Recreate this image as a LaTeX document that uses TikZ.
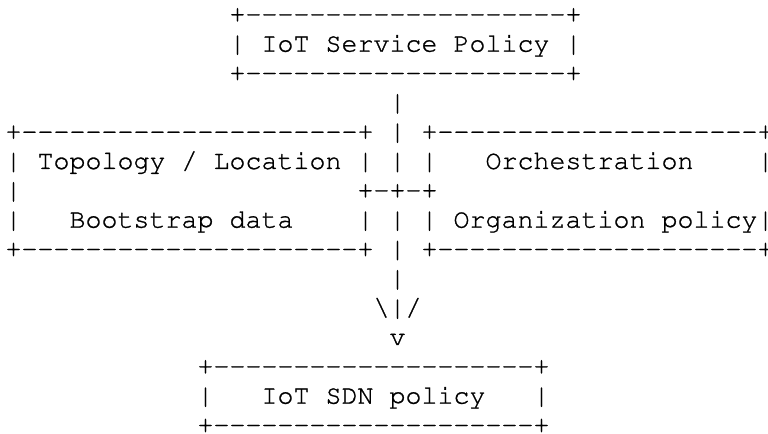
\documentclass[tikz,border=0pt]{standalone}
\usepackage[T1]{fontenc}
% Courier-style monospaced grid: 20pt type, 12pt pitch, 22pt line pitch
\newcommand\gap[1]{\hspace*{\dimexpr #1\dimexpr 12pt\relax\relax}}
\newcommand\dashrun[1]{\foreach \k in {1,...,#1}{-{}}}
% slightly heavier glyphs: fill and stroke the outlines
\newcommand\ascfont{\fontencoding{T1}\fontfamily{pcr}\fontsize{20}{22}\selectfont
  \special{pdf:literal direct 2 Tr 0.2 w}}
\tikzset{
  asc/.style={anchor=base west, inner sep=0pt, outer sep=0pt, text=black, font=\ascfont},
}
\begin{document}
\begin{tikzpicture}
  \fill[white] (0pt,0pt) rectangle (576pt,-324.75pt);
  \useasboundingbox (0pt,0pt) rectangle (576pt,-324.75pt);

  % one unit = one character cell (column, row)
  \begin{scope}[x=12pt, y=-22pt, shift={(4.125pt,-16.725pt)}]
  % IoT Service Policy box
  \node[asc] (svcTop) at (14,0) {+\dashrun{20}+};
  \node[asc] (svcMid) at (14,1) {| IoT Service Policy |};
  \node[asc] (svcBot) at (14,2) {+\dashrun{20}+};

  % trunk down to the junction
  \node[asc] (trunkA) at (24,3) {|};

  % side boxes and the junction
  \node[asc] (sideTop) at (0,4) {+\dashrun{21}+\gap{1}|\gap{1}+\dashrun{20}+};
  \node[asc] (sideL1)  at (0,5) {|\gap{1}Topology / Location\gap{1}|\gap{1}|\gap{1}|\gap{3}Orchestration};
  \node[asc] (sideR1)  at (47,5) {|};
  \node[asc] (sideL2)  at (0,6) {|};
  \node[asc] (joint)   at (22,6) {+-{}+-{}+};
  \node[asc] (sideL3)  at (0,7) {|\gap{3}Bootstrap data\gap{4}|\gap{1}|\gap{1}|\gap{1}Organization policy|};
  \node[asc] (sideBot) at (0,8) {+\dashrun{21}+\gap{1}|\gap{1}+\dashrun{20}+};

  % trunk and arrow head
  \node[asc] (trunkB) at (24,9) {|};
  \node[asc] (head)   at (23,10) {\textbackslash|/};
  \node[asc] (tip)    at (24,11) {v};

  % IoT SDN policy box
  \node[asc] (sdnTop) at (12,12) {+\dashrun{20}+};
  \node[asc] (sdnMid) at (12,13) {|\gap{3}IoT SDN policy\gap{3}|};
  \node[asc] (sdnBot) at (12,14) {+\dashrun{20}+};
  \end{scope}
\end{tikzpicture}
\end{document}
